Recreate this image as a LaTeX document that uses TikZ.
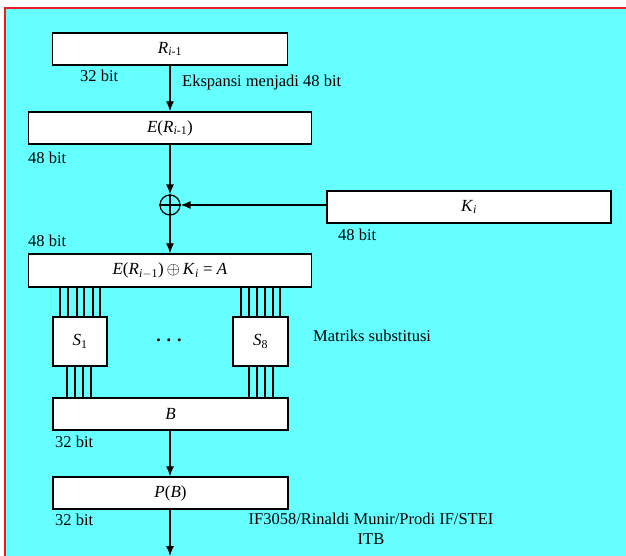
\documentclass[tikz,border=0pt]{standalone}
\usepackage{fontspec}
\setmainfont{Liberation Serif}
\usetikzlibrary{arrows.meta,positioning,calc}
\definecolor{bgcyan}{RGB}{102,255,255}
\definecolor{framered}{RGB}{237,28,36}
\newcommand{\sub}[1]{\textsubscript{#1}}

\begin{document}
\begin{tikzpicture}[x=1pt, y=-1pt,
  box/.style={draw, fill=white, line width=1.4pt, minimum height=32pt, inner sep=0pt, font=\fontsize{17}{20}\selectfont},
  sbox/.style={box, minimum width=54pt, minimum height=49pt},
  lbl/.style={font=\fontsize{16.5}{20}\selectfont, inner sep=0pt, anchor=west},
  arr/.style={-{Latex[length=10pt,width=8pt]}, line width=1.3pt},
  wire/.style={line width=1.2pt}
]
\useasboundingbox (0,0) rectangle (626,556);

% background and frame
\fill[bgcyan] (5,8) rectangle (626,556);
\draw[framered, line width=2pt] (5,556) -- (5,8) -- (626,8);

% boxes
\node[box, minimum width=235pt] (rprev) at (170,49) {\textit{R}\sub{\textit{i}-1}};
\node[box, minimum width=283pt] (er) at (170,128) {\textit{E}(\textit{R}\sub{\textit{i}-1})};
\node[draw, circle, line width=1.2pt, minimum size=20pt, inner sep=0pt] (xor) at (170,205) {};
\draw[line width=1.2pt] (xor.north) -- (xor.south) (xor.west) -- (xor.east);
\node[box, minimum width=284pt] (ki) at (469,207) {\textit{K}\sub{\textit{i}}};
\node[box, minimum width=283pt, minimum height=33pt] (a) at (170,270.5)
  {\textit{E}(\textit{R}\sub{\textit{i}$-$1})$\,\oplus\,$\textit{K}\sub{\textit{i}} = \textit{A}};
\node[sbox] (s1) at (80,341.5) {\textit{S}\sub{1}};
\node[sbox, minimum width=55pt] (s8) at (260.5,341.5) {\textit{S}\sub{8}};
\node[box, minimum width=235pt] (b) at (170.5,414) {\textit{B}};
\node[box, minimum width=235pt] (pb) at (170.5,493) {\textit{P}(\textit{B})};
\coordinate (out) at (170,556);

% connectors
\draw[arr] (rprev.south -| xor) -- (er.north -| xor);
\draw[arr] (er.south -| xor) -- (xor);
\draw[arr] (ki.west |- xor) -- (xor);
\draw[arr] (xor) -- (a.north -| xor);
\draw[arr] (b.south -| xor) -- (pb.north -| xor);
\draw[arr] (pb.south -| xor) -- (out);

% wires into and out of the S-boxes
\foreach \x in {60,68,77,84,93,100}
  \draw[wire] (a.south -| \x,0) -- (s1.north -| \x,0);
\foreach \x in {67,75,83,91}
  \draw[wire] (s1.south -| \x,0) -- (b.north -| \x,0);
\foreach \x in {241,249,257,265,273,280}
  \draw[wire] (a.south -| \x,0) -- (s8.north -| \x,0);
\foreach \x in {249,257,265,273}
  \draw[wire] (s8.south -| \x,0) -- (b.north -| \x,0);

% labels
\node[lbl] (l1) at (80,76) {32 bit};
\node[lbl] (l2) at (182,83) {Ekspansi menjadi 48 bit};
\node[lbl] (l3) at (28,158) {48 bit};
\node[lbl] (l4) at (338,235) {48 bit};
\node[lbl] (l5) at (28,241) {48 bit};
\node[lbl, anchor=center, font=\fontsize{18}{20}\selectfont\bfseries] (dots) at (169,340) {. . .};
\node[lbl] (l6) at (313,336) {Matriks substitusi};
\node[lbl] (l7) at (55,442) {32 bit};
\node[lbl] (l8) at (55,520) {32 bit};
\node[lbl, anchor=north, align=center, font=\fontsize{16.5}{20}\selectfont] (foot) at (371,513)
  {IF3058/Rinaldi Munir/Prodi IF/STEI\\ITB};

\end{tikzpicture}
\end{document}
